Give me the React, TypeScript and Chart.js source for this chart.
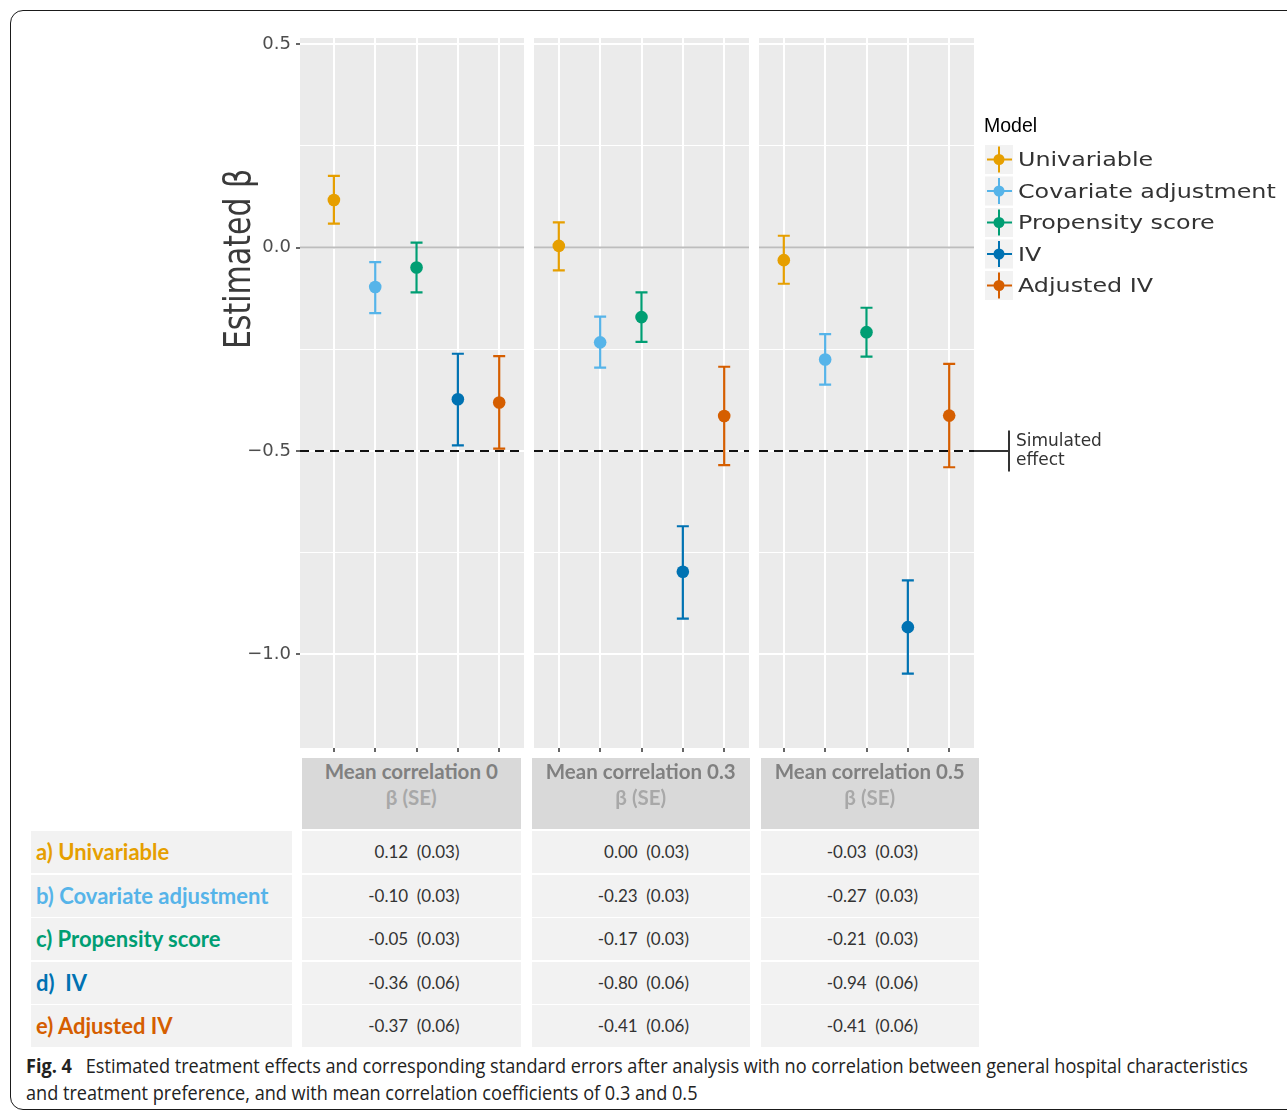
import React, { useEffect, useRef } from "react";
import { Chart, registerables } from "chart.js";

Chart.register(...registerables);

// ---------------- data ----------------
const models = ["Univariable", "Covariate adjustment", "Propensity score", "IV", "Adjusted IV"];
const modelColors = ["#E69F00", "#56B4E9", "#009E73", "#0072B2", "#D55E00"];
const panelTitles = ["Mean correlation 0", "Mean correlation 0.3", "Mean correlation 0.5"];
const rowLabels = ["a) Univariable", "b) Covariate adjustment", "c) Propensity score", "d)  IV", "e) Adjusted IV"];

const xPositions = [0, 1, 2, 3, 4];
const yTickValues = [-1, -0.75, -0.5, -0.25, 0, 0.25, 0.5];
const yMajorTicks = [-1, -0.5, 0, 0.5];

// estimates and interval ends
const estCorr0 = [0.117, -0.097, -0.049, -0.373, -0.381];
const lowCorr0 = [0.059, -0.161, -0.11, -0.486, -0.494];
const highCorr0 = [0.176, -0.036, 0.012, -0.261, -0.267];

const estCorr03 = [0.004, -0.233, -0.171, -0.797, -0.414];
const lowCorr03 = [-0.056, -0.295, -0.232, -0.912, -0.535];
const highCorr03 = [0.062, -0.17, -0.11, -0.685, -0.293];

const estCorr05 = [-0.031, -0.275, -0.208, -0.933, -0.413];
const lowCorr05 = [-0.089, -0.337, -0.268, -1.047, -0.54];
const highCorr05 = [0.029, -0.213, -0.148, -0.818, -0.286];

// table
const betaCorr0 = ["0.12", "-0.10", "-0.05", "-0.36", "-0.37"];
const betaCorr03 = ["0.00", "-0.23", "-0.17", "-0.80", "-0.41"];
const betaCorr05 = ["-0.03", "-0.27", "-0.21", "-0.94", "-0.41"];
const seCorr0 = ["0.03", "0.03", "0.03", "0.06", "0.06"];
const seCorr03 = ["0.03", "0.03", "0.03", "0.06", "0.06"];
const seCorr05 = ["0.03", "0.03", "0.03", "0.06", "0.06"];

const referenceLine = 0;
const simulatedEffect = -0.5;
const yMin = -1.23;
const yMax = 0.515;

// ---------------- layout ----------------
const CANVAS_TOP = 18;
const CANVAS_H = 754;

const isMajor = (v: number) => yMajorTicks.some((m) => Math.abs(m - v) < 1e-9);
const fmt = (v: number) => v.toFixed(1).replace("-", "\u2212");

const panelPlugin = {
  id: "panelDecor",
  beforeDraw(chart: any) {
    const { ctx, chartArea: a } = chart;
    ctx.save();
    ctx.fillStyle = "#ebebeb";
    ctx.fillRect(a.left, a.top, a.right - a.left, a.bottom - a.top);
    ctx.restore();
  },
  beforeDatasetsDraw(chart: any) {
    const { ctx, chartArea: a, scales } = chart;
    const y = scales.y;
    const x = scales.x;
    ctx.save();
    const y0 = y.getPixelForValue(referenceLine);
    ctx.strokeStyle = "#bdbdbd";
    ctx.lineWidth = 2;
    ctx.beginPath();
    ctx.moveTo(a.left, y0);
    ctx.lineTo(a.right, y0);
    ctx.stroke();

    const ys = y.getPixelForValue(simulatedEffect);
    ctx.strokeStyle = "#111111";
    ctx.setLineDash([9, 6]);
    ctx.beginPath();
    ctx.moveTo(a.left, ys);
    ctx.lineTo(a.right, ys);
    ctx.stroke();
    ctx.setLineDash([]);

    chart.data.datasets.forEach((ds: any) => {
      const px = x.getPixelForValue(ds.data[0].x);
      const yl = y.getPixelForValue(ds.errLow);
      const yh = y.getPixelForValue(ds.errHigh);
      ctx.strokeStyle = ds.backgroundColor;
      ctx.lineWidth = 2.2;
      ctx.beginPath();
      ctx.moveTo(px, yl);
      ctx.lineTo(px, yh);
      ctx.moveTo(px - 6, yl);
      ctx.lineTo(px + 6, yl);
      ctx.moveTo(px - 6, yh);
      ctx.lineTo(px + 6, yh);
      ctx.stroke();
    });
    ctx.restore();
  },
};

function makeTitlePlugin(ox: number) {
  return {
    id: "yTitle",
    afterDraw(chart: any) {
      const ctx = chart.ctx;
      ctx.save();
      ctx.translate(250 - ox, 259 - CANVAS_TOP);
      ctx.scale(1.25, 1);
      ctx.rotate(-Math.PI / 2);
      ctx.fillStyle = "#3a3a3a";
      ctx.font = '30px "DejaVu Sans"';
      ctx.textAlign = "center";
      ctx.textBaseline = "alphabetic";
      ctx.fillText("Estimated \u03b2", 0, 0);
      ctx.restore();
    },
  };
}

function makeLegendPlugin(ox: number) {
  return {
    id: "legendAnnot",
    afterDraw(chart: any) {
      const ctx = chart.ctx;
      const oy = CANVAS_TOP;
      ctx.save();
      ctx.fillStyle = "#000000";
      ctx.font = '19.5px "Liberation Sans", Arial, sans-serif';
      ctx.textAlign = "left";
      ctx.textBaseline = "alphabetic";
      ctx.fillText("Model", 984 - ox, 132 - oy);
      models.forEach((m, i) => {
        const cy = 159.5 + i * 31.5 - oy;
        const kx = 985 - ox;
        const c = modelColors[i];
        ctx.fillStyle = "#f2f2f2";
        ctx.fillRect(kx, cy - 14.5, 28, 29);
        ctx.strokeStyle = c;
        ctx.lineWidth = 2;
        ctx.beginPath();
        ctx.moveTo(kx + 2, cy);
        ctx.lineTo(kx + 27, cy);
        ctx.moveTo(kx + 14, cy - 13);
        ctx.lineTo(kx + 14, cy + 13);
        ctx.stroke();
        ctx.fillStyle = c;
        ctx.beginPath();
        ctx.arc(kx + 14, cy, 5.5, 0, Math.PI * 2);
        ctx.fill();
        ctx.save();
        ctx.translate(1018 - ox, cy + 6.5);
        ctx.scale(1.19, 1);
        ctx.fillStyle = "#333333";
        ctx.font = '20px "DejaVu Sans"';
        ctx.fillText(m, 0, 0);
        ctx.restore();
      });

      const ys = chart.scales.y.getPixelForValue(simulatedEffect);
      const a = chart.chartArea;
      ctx.strokeStyle = "#333333";
      ctx.lineWidth = 2;
      ctx.beginPath();
      ctx.moveTo(a.right, ys);
      ctx.lineTo(1009 - ox, ys);
      ctx.moveTo(1009 - ox, ys - 20.5);
      ctx.lineTo(1009 - ox, ys + 20.5);
      ctx.stroke();
      ctx.fillStyle = "#333333";
      ctx.font = '17px "DejaVu Sans"';
      ctx.fillText("Simulated", 1016 - ox, ys - 5);
      ctx.fillText("effect", 1016 - ox, ys + 14.5);
      ctx.restore();
    },
  };
}

type FacetProps = {
  est: number[];
  low: number[];
  high: number[];
  left: number;
  width: number;
  xMin: number;
  axisWidth: number;
  padRight: number;
  showAxis: boolean;
  extra: any;
};

function FacetChart(p: FacetProps) {
  const ref = useRef<HTMLCanvasElement>(null);
  useEffect(() => {
    if (!ref.current) return;
    const datasets = models.map((m, i) => ({
      label: m,
      data: [{ x: xPositions[i], y: p.est[i] }],
      errLow: p.low[i],
      errHigh: p.high[i],
      backgroundColor: modelColors[i],
      borderColor: modelColors[i],
      pointRadius: 6.3,
      pointHoverRadius: 6.3,
      pointBorderWidth: 0,
      borderWidth: 0,
    }));
    const chart = new Chart(ref.current, {
      type: "scatter",
      data: { datasets } as any,
      options: {
        animation: false,
        responsive: false,
        events: [],
        layout: { autoPadding: false, padding: { top: 20, bottom: 20, left: 0, right: p.padRight } },
        plugins: { legend: { display: false }, tooltip: { enabled: false } },
        scales: {
          x: {
            type: "linear",
            min: p.xMin,
            max: 4.6,
            afterBuildTicks: (s: any) => {
              s.ticks = xPositions.map((v) => ({ value: v }));
            },
            afterFit: (s: any) => {
              s.height = 4;
            },
            ticks: { display: false },
            grid: {
              color: "#ffffff",
              lineWidth: 2,
              drawTicks: true,
              tickLength: 4,
              tickColor: "#333333",
              tickWidth: 1.5,
            },
            border: { display: false },
          },
          y: {
            type: "linear",
            min: yMin,
            max: yMax,
            afterBuildTicks: (s: any) => {
              s.ticks = yTickValues.map((v) => ({ value: v }));
            },
            afterFit: (s: any) => {
              s.width = p.axisWidth;
            },
            ticks: {
              display: p.showAxis,
              autoSkip: false,
              padding: 5,
              color: "#4d4d4d",
              font: { family: "DejaVu Sans", size: 18 },
              callback: (v: any) => (isMajor(Number(v)) ? fmt(Number(v)) : ""),
            },
            grid: {
              color: "#ffffff",
              lineWidth: (c: any) => (isMajor(c.tick.value) ? 2 : 1),
              drawTicks: p.showAxis,
              tickLength: 4,
              tickWidth: 1.5,
              tickColor: (c: any) => (isMajor(c.tick.value) ? "#333333" : "rgba(0,0,0,0)"),
            },
            border: { display: false },
          },
        },
      } as any,
      plugins: [panelPlugin, p.extra].filter(Boolean) as any,
    });
    return () => chart.destroy();
  }, []);
  return (
    <canvas
      ref={ref}
      width={p.width}
      height={CANVAS_H}
      style={{ position: "absolute", left: p.left, top: CANVAS_TOP, width: p.width, height: CANVAS_H }}
    />
  );
}

const colLefts = [302, 531.5, 760.5];
const colWidth = 218.5;
const rowTops = [831, 874.5, 918, 961.5, 1005];
const betas = [betaCorr0, betaCorr03, betaCorr05];
const ses = [seCorr0, seCorr03, seCorr05];

function Caption() {
  const ref = useRef<HTMLDivElement>(null);
  useEffect(() => {
    const el = ref.current;
    if (!el) return;
    const fit = () => {
      el.style.transform = "none";
      const w = el.getBoundingClientRect().width;
      if (w > 0) el.style.transform = `scaleX(${(1248 - 26) / w})`;
    };
    fit();
    if ((document as any).fonts && (document as any).fonts.ready) {
      (document as any).fonts.ready.then(fit);
    }
  }, []);
  return (
    <div
      ref={ref}
      style={{
        position: "absolute",
        left: 26,
        top: 1052,
        display: "inline-block",
        transformOrigin: "0 0",
        fontFamily: '"Open Sans", sans-serif',
        fontSize: 20,
        lineHeight: "27px",
        color: "#222222",
        whiteSpace: "nowrap",
      }}
    >
      <b>Fig. 4</b>
      {"\u2002 Estimated treatment effects and corresponding standard errors after analysis with no correlation between general hospital characteristics"}
      <br />
      {"and treatment preference, and with mean correlation coefficients of 0.3 and 0.5"}
    </div>
  );
}

export default function App() {
  return (
    <div
      style={{
        position: "absolute",
        left: 0,
        top: 0,
        width: 1287,
        height: 1113,
        overflow: "hidden",
        background: "#ffffff",
      }}
    >
      <div
        style={{
          position: "absolute",
          left: 10,
          top: 10,
          width: 1320,
          height: 1100,
          border: "1.5px solid #1a1a1a",
          borderRadius: 13,
          boxSizing: "border-box",
        }}
      />
      <FacetChart
        est={estCorr0}
        low={lowCorr0}
        high={highCorr0}
        left={200}
        width={324}
        xMin={-0.82}
        axisWidth={100}
        padRight={0}
        showAxis={true}
        extra={makeTitlePlugin(200)}
      />
      <FacetChart
        est={estCorr03}
        low={lowCorr03}
        high={highCorr03}
        left={534}
        width={215}
        xMin={-0.6}
        axisWidth={0}
        padRight={0}
        showAxis={false}
        extra={null}
      />
      <FacetChart
        est={estCorr05}
        low={lowCorr05}
        high={highCorr05}
        left={759}
        width={528}
        xMin={-0.6}
        axisWidth={0}
        padRight={313}
        showAxis={false}
        extra={makeLegendPlugin(759)}
      />

      {panelTitles.map((t, k) => (
        <div
          key={t}
          style={{
            position: "absolute",
            left: colLefts[k],
            top: 758,
            width: colWidth,
            height: 71,
            background: "#d9d9d9",
            fontFamily: "Lato, sans-serif",
            fontWeight: 700,
            fontSize: 20.5,
            lineHeight: "26px",
            textAlign: "center",
            paddingTop: 0,
            boxSizing: "border-box",
          }}
        >
          <div style={{ color: "#808080" }}>{t}</div>
          <div style={{ color: "#a8a8a8" }}>{"\u03b2 (SE)"}</div>
        </div>
      ))}

      {rowLabels.map((r, i) => (
        <div
          key={r}
          style={{
            position: "absolute",
            left: 31,
            top: rowTops[i],
            width: 261,
            height: 42,
            background: "#f2f2f2",
            fontFamily: "Lato, sans-serif",
            fontWeight: 700,
            fontSize: 22,
            lineHeight: "42px",
            color: modelColors[i],
            paddingLeft: 5,
            boxSizing: "border-box",
            whiteSpace: "pre",
          }}
        >
          {r}
        </div>
      ))}

      {betas.map((col, k) =>
        col.map((b, i) => (
          <div
            key={k + "-" + i}
            style={{
              position: "absolute",
              left: colLefts[k],
              top: rowTops[i],
              width: colWidth,
              height: 42,
              background: "#f2f2f2",
              fontFamily: "Lato, sans-serif",
              fontSize: 17,
              lineHeight: "42px",
              color: "#333333",
              textAlign: "right",
              paddingRight: 61,
              boxSizing: "border-box",
              whiteSpace: "pre",
            }}
          >
            {b + "  (" + ses[k][i] + ")"}
          </div>
        ))
      )}

      <Caption />
    </div>
  );
}
